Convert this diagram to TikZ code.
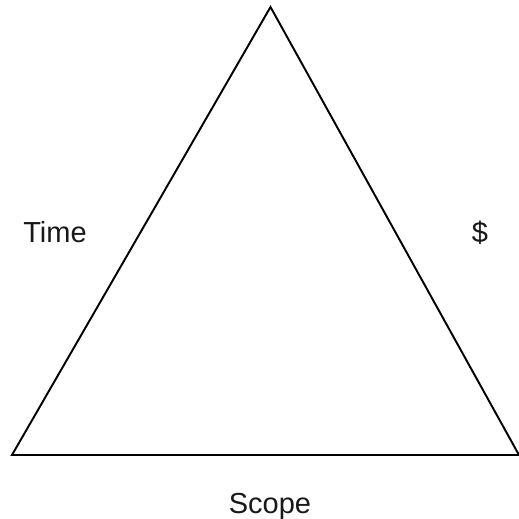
\documentclass[tikz,border=0pt]{standalone}
\usepackage{fontspec}
\setmainfont{Liberation Sans}
\usepackage{tikz}
\usetikzlibrary{positioning}

\begin{document}
\begin{tikzpicture}[
    edge/.style={line width=1.1pt, black, line join=miter},
    label/.style={font=\fontsize{16.5}{20}\selectfont, anchor=base, inner sep=0pt, text=black!90}
  ]
    \useasboundingbox (0,0) rectangle (10.38,10.38);

    % Corners
    \coordinate (apex) at (5.41, 10.24);
    \coordinate (left) at (0.24, 1.28);
    \coordinate (right) at (10.38, 1.28);

    % Triangle
    \draw[edge] (apex) -- (left) -- (right) -- cycle;

    % Sides
    \node[label] (time) at (1.10, 5.52) {Time};
    \node[label] (cost) at (9.60, 5.54) {\$};
    \node[label] (scope) at (5.40, 0.10) {Scope};
  \end{tikzpicture}
\end{document}
